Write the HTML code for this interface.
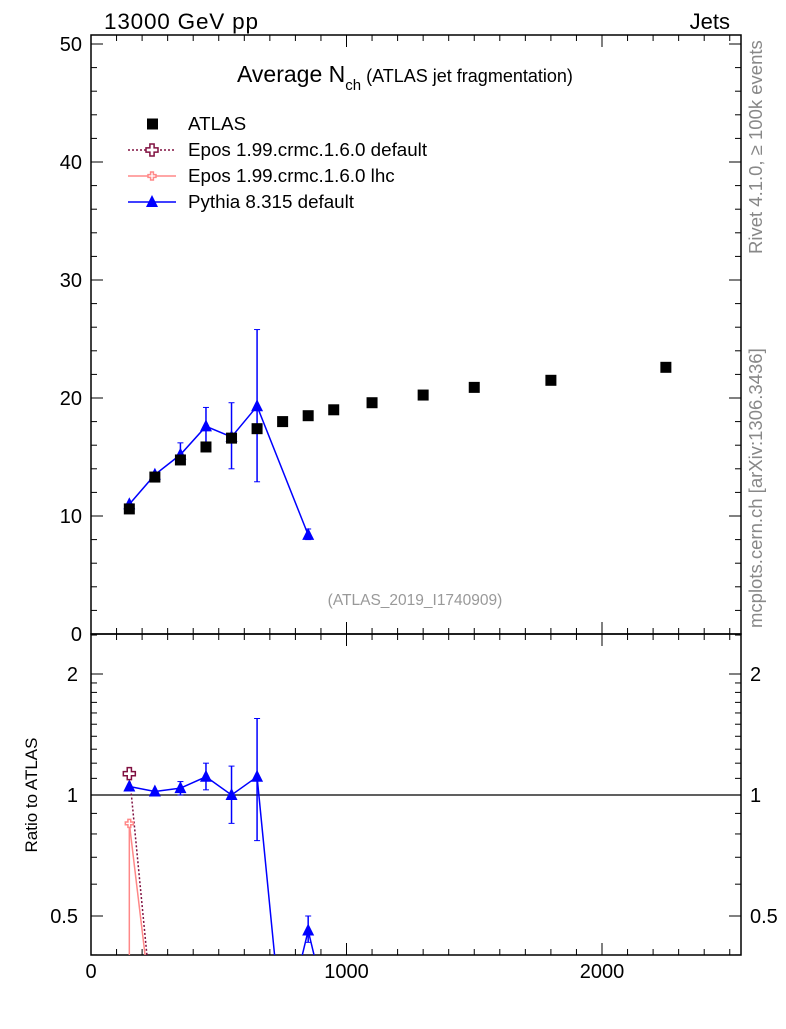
<!DOCTYPE html>
<html><head><meta charset="utf-8"><style>
body{margin:0;background:#fff;}
svg{font-family:"Liberation Sans",sans-serif;}
</style></head><body>
<svg id="c" width="786" height="1024" xmlns="http://www.w3.org/2000/svg">
<defs>
<clipPath id="cm"><rect x="91" y="35" width="650" height="599"/></clipPath>
<clipPath id="cr"><rect x="91" y="634" width="650" height="321"/></clipPath>
</defs>
<g id="g"></g>
</svg>
<script>
const atlasX=[150,250,350,450,550,650,750,850,950,1100,1300,1500,1800,2250];
const atlasY=[10.6,13.3,14.75,15.85,16.6,17.4,18.0,18.5,19.0,19.6,20.25,20.9,21.5,22.6];
const pyX=[150,250,350,450,550,650,850];
const pyY=[11.0,13.5,15.2,17.6,16.7,19.3,8.4];
const pyLo=[11.0,13.5,14.6,15.9,14.0,12.9,8.0];
const pyHi=[11.0,13.5,16.2,19.2,19.6,25.8,8.9];
const rPyX=[150,250,350,450,550,650,750,850,950];
const rPy=[1.05,1.02,1.04,1.11,1.0,1.11,0.25,0.46,0.25];
const rPyLo=[1.05,1.02,1.0,1.03,0.85,0.77,0.25,0.43,0.25];
const rPyHi=[1.05,1.02,1.08,1.2,1.18,1.55,0.25,0.5,0.25];
const eposDefX=[150,250];
const eposDef=[1.13,0.25];
const eposLhcX=[150,250];
const eposLhc=[0.85,0.25];
const xTicks=[0,1000,2000];
const yTicks=[0,10,20,30,40,50];
const rTicks=[0.5,1,2];

const NS="http://www.w3.org/2000/svg";
const g=document.getElementById('g');
const X=v=>91+v*0.2555;
const Y=v=>634-v*11.8;
const R=v=>795-Math.log2(v)*121;
function el(t,a,p){const e=document.createElementNS(NS,t);for(const k in a)e.setAttribute(k,a[k]);(p||g).appendChild(e);return e;}
function txt(s,a){const e=el('text',a);e.textContent=s;return e;}

const f1=el('rect',{x:91,y:35,width:650,height:599,fill:'none',stroke:'#000','stroke-width':1.5});


const f2=el('rect',{x:91,y:634,width:650,height:321,fill:'none',stroke:'#000','stroke-width':1.5});



for(let v=0;v<=2500;v+=100){const maj=v%1000===0;const l=maj?12:6;
 for(const [yb,yt] of [[634,35],[955,634]]){
  el('line',{x1:X(v),x2:X(v),y1:yb,y2:yb-l,stroke:'#000'});
  el('line',{x1:X(v),x2:X(v),y1:yt,y2:yt+l,stroke:'#000'});}}
xTicks.forEach(v=>{const t=txt(v,{x:X(v),y:978,'font-size':20,'text-anchor':'middle'});

});

for(let v=0;v<=50;v+=2){const maj=v%10===0;const l=maj?12:6;
 el('line',{x1:91,x2:91+l,y1:Y(v),y2:Y(v),stroke:'#000'});
 el('line',{x1:741,x2:741-l,y1:Y(v),y2:Y(v),stroke:'#000'});}
yTicks.forEach(v=>{const t=txt(v,{x:82,y:Y(v)+7,'font-size':20,'text-anchor':'end'});

});

[0.4,0.5,0.6,0.7,0.8,0.9,1,1.1,1.2,1.3,1.4,1.5,1.6,1.7,1.8,1.9,2,2.5].forEach(v=>{const maj=rTicks.includes(v);const l=maj?12:6;
 el('line',{x1:91,x2:91+l,y1:R(v),y2:R(v),stroke:'#000'});
 el('line',{x1:741,x2:741-l,y1:R(v),y2:R(v),stroke:'#000'});});
rTicks.forEach(v=>{const t=txt(v,{x:78,y:R(v)+7,'font-size':20,'text-anchor':'end'});


const t2=txt(v,{x:750,y:R(v)+7,'font-size':20});

});
el('line',{x1:91,x2:741,y1:R(1),y2:R(1),stroke:'#000','stroke-width':1.2});

[['13000 GeV pp',{x:104,y:29,'font-size':22.5,textLength:154},'header-energy'],
 ['Jets',{x:730,y:29,'font-size':22,'text-anchor':'end'},'header-jets'],
 ['(ATLAS_2019_I1740909)',{x:415,y:605,'font-size':15.5,fill:'#999','text-anchor':'middle'},'analysis-id']
].forEach(([s,a,n])=>{const t=txt(s,a);});
const tt=el('text',{x:237,y:82,'font-size':23});


tt.innerHTML='Average N<tspan font-size="15" dy="8">ch</tspan><tspan font-size="18" dy="-8"> (ATLAS jet fragmentation)</tspan>';
const r1=txt('Rivet 4.1.0, \u2265 100k events',{transform:'translate(762,254) rotate(-90)','font-size':18.5,fill:'#888'});


const r2=txt('mcplots.cern.ch [arXiv:1306.3436]',{transform:'translate(762,628) rotate(-90)','font-size':18.5,fill:'#888'});


const yl=txt('Ratio to ATLAS',{transform:'translate(37,795) rotate(-90)','font-size':17,'text-anchor':'middle'});



function tri(x,y,c,p){return el('polygon',{points:`${x},${y-7} ${x-6},${y+5} ${x+6},${y+5}`,fill:c},p);}
function cross(x,y,c,s,p){const a=s*0.35;return el('path',{d:`M${x-a},${y-s}h${2*a}v${s-a}h${s-a}v${2*a}h${-(s-a)}v${s-a}h${-2*a}v${-(s-a)}h${-(s-a)}v${-2*a}h${s-a}z`,fill:'#fff',stroke:c,'stroke-width':1.5},p);}

const mg=el('g',{'clip-path':'url(#cm)'});
const pl=el('polyline',{points:pyX.map((x,i)=>X(x)+','+Y(pyY[i])).join(' '),fill:'none',stroke:'#00f','stroke-width':1.5},mg);


pyX.forEach((x,i)=>{if(pyHi[i]!==pyLo[i]){el('line',{x1:X(x),x2:X(x),y1:Y(pyLo[i]),y2:Y(pyHi[i]),stroke:'#00f','stroke-width':1.5},mg);
 el('line',{x1:X(x)-3,x2:X(x)+3,y1:Y(pyLo[i]),y2:Y(pyLo[i]),stroke:'#00f'},mg);el('line',{x1:X(x)-3,x2:X(x)+3,y1:Y(pyHi[i]),y2:Y(pyHi[i]),stroke:'#00f'},mg);}
 const m=tri(X(x),Y(pyY[i]),'#00f',mg);
 
 });
atlasX.forEach((x,i)=>{const m=el('rect',{x:X(x)-5.5,y:Y(atlasY[i])-5.5,width:11,height:11,fill:'#000'},mg);
 
 });

const rg=el('g',{'clip-path':'url(#cr)'});
el('line',{x1:X(eposLhcX[0]),x2:X(eposLhcX[0]),y1:R(eposLhc[0]),y2:960,stroke:'#f88','stroke-width':1.5},rg);
const el1=el('polyline',{points:eposLhcX.map((x,i)=>X(x)+','+R(eposLhc[i])).join(' '),fill:'none',stroke:'#f88','stroke-width':1.5},rg);


const el2=el('polyline',{points:eposDefX.map((x,i)=>X(x)+','+R(eposDef[i])).join(' '),fill:'none',stroke:'#801040','stroke-width':1.5,'stroke-dasharray':'2,2'},rg);


const el3=el('polyline',{points:rPyX.map((x,i)=>X(x)+','+R(rPy[i])).join(' '),fill:'none',stroke:'#00f','stroke-width':1.5},rg);


rPyX.forEach((x,i)=>{if(rPyHi[i]!==rPyLo[i]){el('line',{x1:X(x),x2:X(x),y1:R(rPyLo[i]),y2:R(rPyHi[i]),stroke:'#00f','stroke-width':1.5},rg);
 el('line',{x1:X(x)-3,x2:X(x)+3,y1:R(rPyLo[i]),y2:R(rPyLo[i]),stroke:'#00f'},rg);el('line',{x1:X(x)-3,x2:X(x)+3,y1:R(rPyHi[i]),y2:R(rPyHi[i]),stroke:'#00f'},rg);}
 const m=tri(X(x),R(rPy[i]),'#00f',rg);
 
 });
eposLhcX.forEach((x,i)=>{const m=cross(X(x),R(eposLhc[i]),'#f88',4,rg);
 
 });
eposDefX.forEach((x,i)=>{const m=cross(X(x),R(eposDef[i]),'#801040',6,rg);
 
 });

const lg=el('g',{});


const ly=[124,150,176,202];
const labels=['ATLAS','Epos 1.99.crmc.1.6.0 default','Epos 1.99.crmc.1.6.0 lhc','Pythia 8.315 default'];
labels.forEach((s,i)=>{const t=txt(s,{x:188,y:ly[i]+6,'font-size':18.8});});
el('rect',{x:147,y:ly[0]-5.5,width:11,height:11,fill:'#000'},lg);
el('line',{x1:128,x2:176,y1:ly[1],y2:ly[1],stroke:'#801040','stroke-width':1.5,'stroke-dasharray':'2,2'},lg);
cross(152,ly[1],'#801040',6,lg);
el('line',{x1:128,x2:176,y1:ly[2],y2:ly[2],stroke:'#f88','stroke-width':1.5},lg);
cross(152,ly[2],'#f88',4,lg);
el('line',{x1:128,x2:176,y1:ly[3],y2:ly[3],stroke:'#00f','stroke-width':1.5},lg);
tri(152,ly[3],'#00f',lg);
</script>
</body></html>
